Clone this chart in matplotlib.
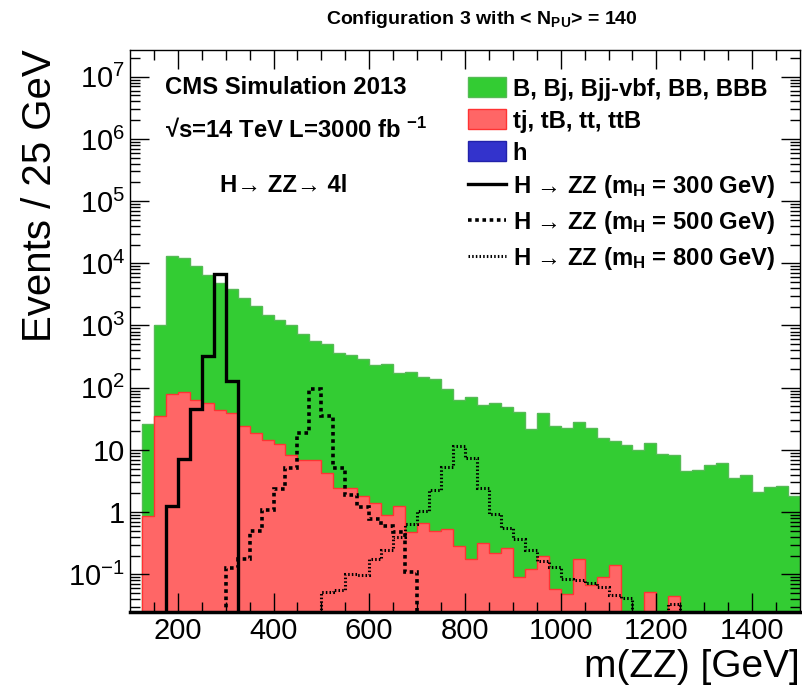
import numpy as np
import matplotlib
matplotlib.use("Agg")
import matplotlib.pyplot as plt
from matplotlib.patches import Patch
from matplotlib.lines import Line2D

plt.rcParams['font.family'] = ['Liberation Sans', 'DejaVu Sans']
plt.rcParams['mathtext.fontset'] = 'custom'
plt.rcParams['mathtext.rm'] = 'Liberation Sans'
plt.rcParams['mathtext.it'] = 'Liberation Sans:italic'
plt.rcParams['mathtext.bf'] = 'Liberation Sans:bold'

# m(ZZ) bins, 25 GeV wide, 100 - 1500 GeV
edges = np.arange(100, 1525, 25)

# tj, tB, tt, ttB
tt = [0, 0.865, 35, 78, 86, 63, 56, 44, 38.7, 24.2,
      18.5, 14.4, 12.3, 8.3, 6.9, 6.9, 4.3, 2.47, 2.47, 1.84,
      1.38, 0.90, 1.27, 0.47, 0.66, 0.50, 0.53, 0.29, 0.174, 0.32,
      0.222, 0.262, 0.0895, 0.12, 0.20, 0.058, 0.048, 0.174, 0.066, 0.092,
      0.14, 0, 0, 0.052, 0, 0.045, 0, 0, 0, 0,
      0, 0, 0, 0, 0, 0]

# B, Bj, Bjj-vbf, BB, BBB (stacked on top of tt)
bkg_B = [0, 24.9, 965, 13120, 12210, 9140, 6440, 4860, 3820, 2716,
         2030, 1466, 1218, 992, 723, 556, 496, 355, 334, 284,
         231, 239, 173, 180, 146, 135, 93.5, 62, 70, 53,
         56, 48, 40, 21.6, 39.4, 24.1, 22.1, 28.2, 22.1, 15.2,
         14.0, 12.0, 9.96, 13.0, 8.6, 8.25, 4.6, 4.75, 5.7, 6.1,
         3.57, 3.95, 2.08, 2.56, 2.62, 1.82]

# h (negligible)
bkg_h = [0] * 56

sig300 = [0, 0, 0, 1.25, 7.1, 45, 324, 6800, 128, 0,
          0, 0, 0, 0, 0, 0, 0, 0, 0, 0,
          0, 0, 0, 0, 0, 0, 0, 0, 0, 0,
          0, 0, 0, 0, 0, 0, 0, 0, 0, 0,
          0, 0, 0, 0, 0, 0, 0, 0, 0, 0,
          0, 0, 0, 0, 0, 0]

sig500 = [0, 0, 0, 0, 0, 0, 0, 0, 0.125, 0.174,
          0.50, 1.08, 2.32, 5.2, 18.5, 94, 35, 5.1, 1.9, 1.22,
          0.77, 0.605, 0.47, 0.11, 0, 0, 0, 0, 0, 0,
          0, 0, 0, 0, 0, 0, 0, 0, 0, 0,
          0, 0, 0, 0, 0, 0, 0, 0, 0, 0,
          0, 0, 0, 0, 0, 0]

sig800 = [0, 0, 0, 0, 0, 0, 0, 0, 0, 0,
          0, 0, 0, 0, 0, 0, 0.051, 0.056, 0.10, 0.098,
          0.175, 0.245, 0.40, 0.65, 1.05, 2.26, 5.4, 11.6, 7.5, 2.47,
          0.93, 0.56, 0.37, 0.245, 0.164, 0.132, 0.085, 0.081, 0.073, 0.063,
          0.046, 0.041, 0, 0, 0, 0.033, 0, 0, 0, 0,
          0, 0, 0, 0, 0, 0]

ytick_vals = [1e-1, 1, 10, 1e2, 1e3, 1e4, 1e5, 1e6, 1e7]
ytick_labels = ['$10^{-1}$', '1', '10', '$10^{2}$', '$10^{3}$', '$10^{4}$',
                '$10^{5}$', '$10^{6}$', '$10^{7}$']

green = '#33cc33'
red = '#ff6666'
blue = '#3333cc'
floor = 1e-4

def nz(v):
    v = np.asarray(v, dtype=float)
    return np.where(v > 0, v, floor)

tt = np.array(tt)
stack_B = tt + np.array(bkg_B)
stack_h = stack_B + np.array(bkg_h)

fig = plt.figure(figsize=(8.02, 6.93), dpi=100)
ax = fig.add_axes([0.162, 0.1173, 0.8355, 0.8107])

ax.stairs(nz(stack_h), edges, baseline=floor, fill=True, facecolor=blue, edgecolor='none')
ax.stairs(nz(stack_B), edges, baseline=floor, fill=True, facecolor=green, edgecolor='#55bb55', linewidth=1)
ax.stairs(nz(tt), edges, baseline=floor, fill=True, facecolor=red, edgecolor='#ff3333', linewidth=1)

ax.stairs(nz(sig300), edges, baseline=None, color='black', linewidth=2.4)
ax.stairs(nz(sig500), edges, baseline=None, color='black', linewidth=2.6, linestyle=(0, (1, 1)))
ax.stairs(nz(sig800), edges, baseline=None, color='black', linewidth=2.2, linestyle=(0, (0.5, 0.7)))

ax.set_yscale('log')
ax.set_xlim(100, 1500)
ax.set_ylim(0.025, 2.7e7)

ax.set_xticks(np.arange(200, 1500, 200))
ax.set_xticks(np.arange(150, 1500, 50), minor=True)
ax.set_yticks(ytick_vals)
ax.set_yticklabels(ytick_labels)
ax.tick_params(which='both', direction='in', top=True, right=True, labelsize=21)
ax.tick_params(which='major', length=14, width=1)
ax.tick_params(which='minor', length=7, width=1)
ax.tick_params(axis='x', which='major', pad=4)
for s in ax.spines.values():
    s.set_linewidth(1)
ax.spines['bottom'].set_linewidth(2.5)

fig.text(0.601, 0.972, 'Configuration 3 with < N$_{\\mathbf{PU}}$> = 140',
         ha='center', va='center', fontsize=14, fontweight='bold')
fig.text(0.05, 0.717, 'Events / 25 GeV', rotation=90, ha='center', va='center', fontsize=29)
fig.text(0.997, 0.037, 'm(ZZ) [GeV]', ha='right', va='center', fontsize=28)

tkw = dict(transform=ax.transAxes, fontsize=17.2, fontweight='bold', va='center', ha='left')
ax.text(0.052, 0.933, 'CMS Simulation 2013', **tkw)
ax.text(0.052, 0.857, '√s=14 TeV L=3000 fb $^{\\mathbf{-1}}$', **tkw)
ax.text(0.134, 0.758, 'H→ ZZ→ 4l', **tkw)

handles = [Patch(facecolor=green, edgecolor='#55bb55'),
           Patch(facecolor=red, edgecolor='#ff3333'),
           Patch(facecolor=blue, edgecolor='#2222aa'),
           Line2D([], [], color='black', linewidth=2.4),
           Line2D([], [], color='black', linewidth=2.6, linestyle=(0, (1, 1))),
           Line2D([], [], color='black', linewidth=2.2, linestyle=(0, (0.5, 0.7)))]
labels = ['B, Bj, Bjj-vbf, BB, BBB', 'tj, tB, tt, ttB', 'h',
          'H → ZZ (m$_{\\mathbf{H}}$ = 300 GeV)',
          'H → ZZ (m$_{\\mathbf{H}}$ = 500 GeV)',
          'H → ZZ (m$_{\\mathbf{H}}$ = 800 GeV)']
leg = ax.legend(handles, labels, loc='upper left', bbox_to_anchor=(0.491, 0.968),
                frameon=False, prop={'weight': 'bold', 'size': 17.2},
                handlelength=1.55, handleheight=0.9, handletextpad=0.3, labelspacing=0.37,
                borderaxespad=0)

plt.savefig('out.png', dpi=100)
